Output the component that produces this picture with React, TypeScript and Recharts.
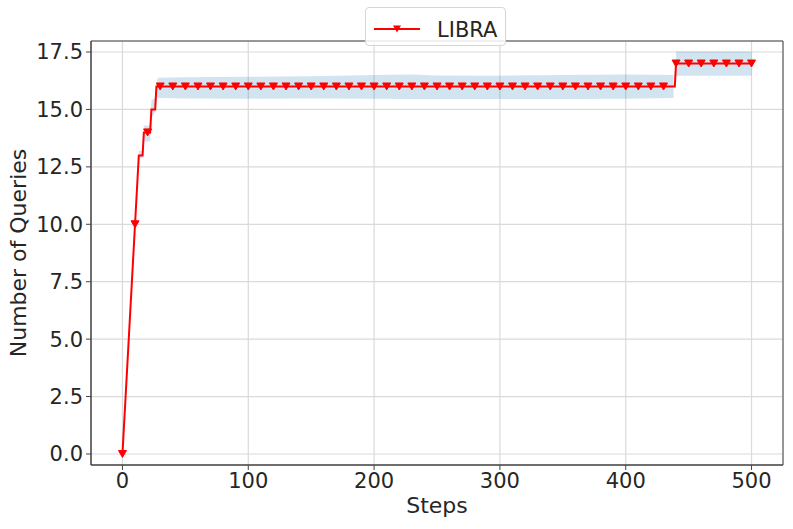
import React from 'react';
import {
  ComposedChart,
  Line,
  Area,
  XAxis,
  YAxis,
  CartesianGrid,
  ReferenceArea,
} from 'recharts';

// ---- data ----
const lineSteps = [0, 10, 13, 16, 17, 22, 23, 26, 27, 439, 440, 500];
const lineValues = [0, 10, 13, 13, 14, 14, 15, 15, 16, 16, 17, 17];

const markerSteps = [
  0, 10, 20, 30, 40, 50, 60, 70, 80, 90, 100, 110, 120, 130, 140, 150, 160, 170, 180, 190,
  200, 210, 220, 230, 240, 250, 260, 270, 280, 290, 300, 310, 320, 330, 340, 350, 360, 370,
  380, 390, 400, 410, 420, 430, 440, 450, 460, 470, 480, 490, 500,
];
const markerValues = [
  0, 10, 14, 16, 16, 16, 16, 16, 16, 16, 16, 16, 16, 16, 16, 16, 16, 16, 16, 16,
  16, 16, 16, 16, 16, 16, 16, 16, 16, 16, 16, 16, 16, 16, 16, 16, 16, 16,
  16, 16, 16, 16, 16, 16, 17, 17, 17, 17, 17, 17, 17,
];

// std band (lower / upper) while at 13..16
const bandASteps = [13, 16, 17, 22, 23, 26, 28, 50, 100, 150, 200, 230, 250, 300, 350, 400, 438];
const bandALow = [12.9, 12.9, 13.6, 13.6, 14.6, 14.9, 15.5, 15.48, 15.47, 15.48, 15.47, 15.46, 15.46, 15.45, 15.46, 15.47, 15.5];
const bandAHigh = [13.2, 13.2, 14.3, 14.3, 15.4, 15.5, 16.38, 16.4, 16.42, 16.44, 16.5, 16.52, 16.48, 16.47, 16.5, 16.52, 16.5];

// std band while at 17
const bandBSteps = [440, 500];
const bandBLow = [16.47, 16.47];
const bandBHigh = [17.52, 17.52];

const xTicks = [0, 100, 200, 300, 400, 500];
const yTicks = [0, 2.5, 5, 7.5, 10, 12.5, 15, 17.5];

const SERIES_NAME = 'LIBRA';

const lineData = lineSteps.map((s, i) => ({ step: s, value: lineValues[i] }));
const markerData = markerSteps.map((s, i) => ({ step: s, value: markerValues[i] }));
const bandAData = bandASteps.map((s, i) => ({ step: s, range: [bandALow[i], bandAHigh[i]] }));
const bandBData = bandBSteps.map((s, i) => ({ step: s, range: [bandBLow[i], bandBHigh[i]] }));

const FONT = '"DejaVu Sans", sans-serif';
const TEXT = '#262626';

const TriangleDot = (props: any) => {
  const { cx, cy, index } = props;
  if (cx == null || cy == null) return null;
  return (
    <path
      key={`m-${index}`}
      d={`M${cx - 4},${cy - 3.5} L${cx + 4},${cy - 3.5} L${cx},${cy + 3.5} Z`}
      fill="#ff0000"
      stroke="#ff0000"
      strokeWidth={1}
    />
  );
};

const Legend = () => (
  <div
    style={{
      position: 'absolute',
      left: 365,
      top: 7,
      width: 141,
      height: 39,
      border: '1px solid #d6d6d6',
      borderRadius: 4,
      background: 'rgba(255,255,255,0.85)',
      boxSizing: 'border-box',
    }}
  >
    <svg width={141} height={39} style={{ position: 'absolute', left: 0, top: 0 }}>
      <line x1={8} y1={21} x2={54} y2={21} stroke="#ff0000" strokeWidth={2} />
      <path d="M27,17.5 L35,17.5 L31,24.5 Z" fill="#ff0000" />
      <text x={71} y={29} fontFamily={FONT} fontSize={21} fill={TEXT}>
        {SERIES_NAME}
      </text>
    </svg>
  </div>
);

export default function App() {
  return (
    <div style={{ position: 'absolute', left: 0, top: 0, width: 793, height: 529, background: '#fff' }}>
      <ComposedChart
        width={793}
        height={529}
        margin={{ top: 41, right: 10, bottom: 0, left: 0 }}
      >
        <CartesianGrid stroke="#dadada" strokeWidth={1.2} />
        <XAxis
          dataKey="step"
          type="number"
          domain={[-25, 525]}
          ticks={xTicks}
          allowDataOverflow
          height={64}
          tickSize={5}
          tickMargin={3}
          stroke="#444"
          tick={{ fontSize: 21, fill: TEXT, fontFamily: FONT }}
          label={{
            content: (p: any) => {
              const vb = p.viewBox;
              return (
                <text
                  x={vb.x + vb.width / 2}
                  y={vb.y + 48}
                  textAnchor="middle"
                  fontSize={22}
                  fontFamily={FONT}
                  fill={TEXT}
                >
                  Steps
                </text>
              );
            },
          }}
        />
        <YAxis
          type="number"
          domain={[-0.48, 17.98]}
          ticks={yTicks}
          allowDataOverflow
          width={91}
          tickSize={5}
          tickMargin={3}
          stroke="#444"
          tickFormatter={(v: number) => v.toFixed(1)}
          tick={{ fontSize: 21, fill: TEXT, fontFamily: FONT }}
          label={{
            content: (p: any) => {
              const vb = p.viewBox;
              const cx = vb.x + 26;
              const cy = vb.y + vb.height / 2;
              return (
                <text
                  x={cx}
                  y={cy}
                  transform={`rotate(-90, ${cx}, ${cy})`}
                  textAnchor="middle"
                  fontSize={22}
                  fontFamily={FONT}
                  fill={TEXT}
                >
                  Number of Queries
                </text>
              );
            },
          }}
        />
        <Area
          data={bandAData}
          dataKey="range"
          type="linear"
          stroke="none"
          fill="#1f77b4"
          fillOpacity={0.2}
          isAnimationActive={false}
        />
        <Area
          data={bandBData}
          dataKey="range"
          type="linear"
          stroke="none"
          fill="#1f77b4"
          fillOpacity={0.2}
          isAnimationActive={false}
        />
        <Line
          data={lineData}
          dataKey="value"
          type="linear"
          stroke="#ff0000"
          strokeWidth={2}
          dot={false}
          activeDot={false}
          isAnimationActive={false}
        />
        <Line
          data={markerData}
          dataKey="value"
          type="linear"
          stroke="none"
          dot={TriangleDot}
          activeDot={false}
          isAnimationActive={false}
        />
        <ReferenceArea
          x1={-25}
          x2={525}
          y1={-0.48}
          y2={17.98}
          fill="none"
          stroke="#444"
          strokeWidth={1}
          ifOverflow="visible"
        />
      </ComposedChart>
      <Legend />
    </div>
  );
}
